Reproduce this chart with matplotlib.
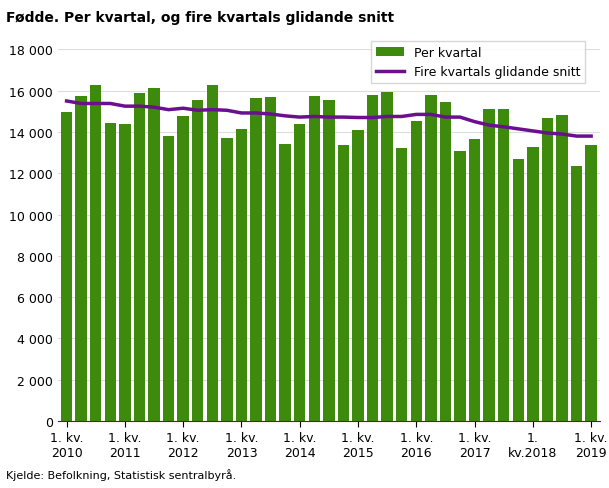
import matplotlib
matplotlib.use("Agg")
import matplotlib.pyplot as plt
import numpy as np

per_kvartal = [14950, 15750, 16250, 14450,
               14400, 15900, 16150, 13800,
               14750, 15550, 16250, 13700,
               14150, 15650, 15700, 13400,
               14400, 15750, 15550, 13350,
               14100, 15800, 15950, 13200,
               14550, 15800, 15450, 13100,
               13650, 15100, 15100, 12700,
               13250, 14700, 14800, 12350,
               13350]
glidande = [15500, 15380, 15380, 15380,
            15250, 15250, 15200, 15080,
            15150, 15050, 15080, 15050,
            14920, 14920, 14870, 14780,
            14720, 14750, 14720, 14720,
            14700, 14700, 14750, 14750,
            14850, 14850, 14720, 14720,
            14500, 14330, 14250, 14150,
            14050, 13950, 13900, 13800,
            13800]
tick_labels = ["1. kv.\n2010", "1. kv.\n2011", "1. kv.\n2012", "1. kv.\n2013",
               "1. kv.\n2014", "1. kv.\n2015", "1. kv.\n2016", "1. kv.\n2017",
               "1.\nkv.2018", "1. kv.\n2019"]

x = np.arange(len(per_kvartal))
fig = plt.figure(figsize=(6.09, 4.89), dpi=100)
ax = fig.add_axes([0.095, 0.137, 0.89, 0.76])
b = ax.bar(x, per_kvartal, width=0.78, color="#3e8a0c", label="Per kvartal", zorder=2)
l, = ax.plot(x, glidande, color="#6a0f8e", lw=2.5, label="Fire kvartals glidande snitt", zorder=3)
ax.set_ylim(0, 18000)
ax.set_xlim(-0.6, len(x) - 0.4)
yt = np.arange(0, 18001, 2000)
ax.set_yticks(yt)
ax.set_yticklabels([f"{v:,}".replace(",", "\u00a0") for v in yt], fontsize=9)
ax.set_xticks(x[::4])
ax.set_xticklabels(tick_labels, fontsize=9)
ax.tick_params(axis="y", length=0)
ax.tick_params(axis="x", length=4)
ax.grid(axis="y", color="#dddddd", lw=0.8, zorder=0)
for s in ["top", "right", "left"]:
    ax.spines[s].set_visible(False)
ax.spines["bottom"].set_color("#333333")
ax.legend([b, l], ["Per kvartal", "Fire kvartals glidande snitt"], loc="upper right",
          bbox_to_anchor=(0.985, 1.04), fontsize=9, frameon=True,
          fancybox=False, edgecolor="#cccccc", handlelength=2.2)
fig.text(0.01, 0.955, "Fødde. Per kvartal, og fire kvartals glidande snitt", fontsize=10, fontweight="bold")
fig.text(0.01, 0.02, "Kjelde: Befolkning, Statistisk sentralbyrå.", fontsize=8)
fig.savefig("out.png", dpi=100)
